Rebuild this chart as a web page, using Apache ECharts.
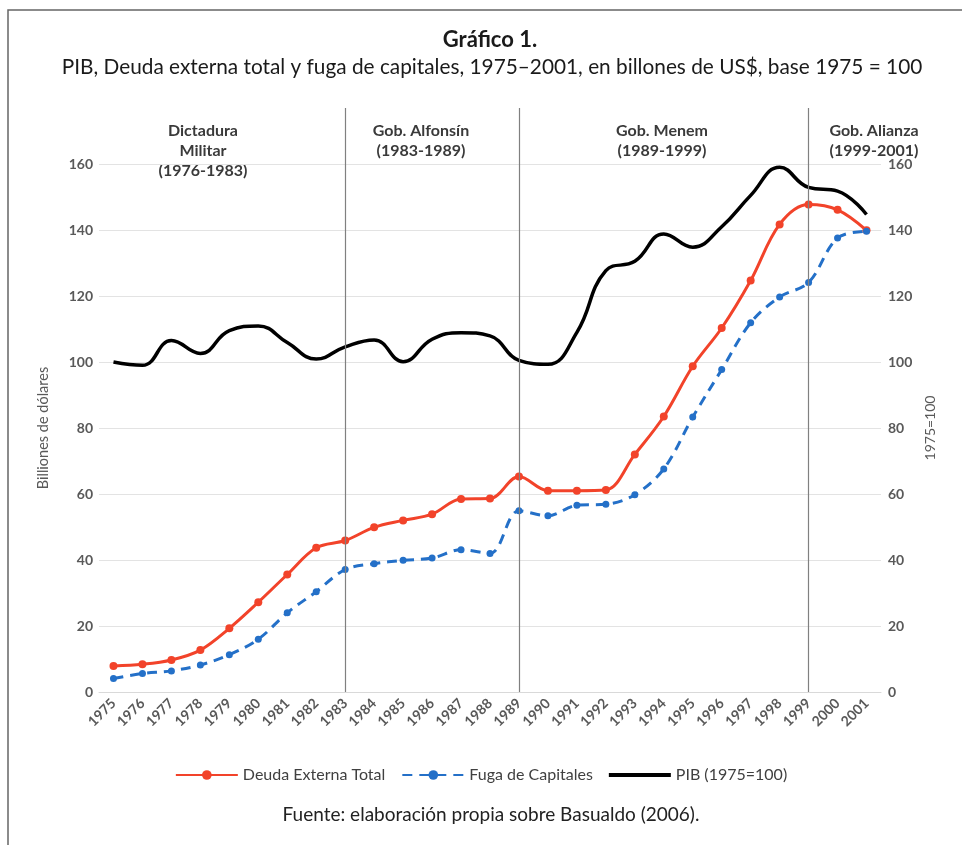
<!DOCTYPE html>
<html>
<head>
<meta charset="utf-8">
<script src="https://cdn.jsdelivr.net/npm/echarts@6/dist/echarts.min.js"></script>
<style>
html,body{margin:0;padding:0;background:#fff;}
#chart{width:962px;height:845px;}
</style>
</head>
<body>
<div id="chart"></div>
<script>
const years = ['1975','1976','1977','1978','1979','1980','1981','1982','1983','1984','1985','1986','1987','1988','1989','1990','1991','1992','1993','1994','1995','1996','1997','1998','1999','2000','2001'];
const deuda = [7.9,8.4,9.7,12.7,19.3,27.2,35.6,43.7,45.9,49.9,52.0,53.9,58.5,58.6,65.3,61.0,61.0,61.2,72.0,83.5,98.7,110.3,124.7,141.7,147.7,146.1,139.9];
const fuga = [4.1,5.6,6.4,8.2,11.3,16.0,24.0,30.4,37.1,38.9,39.9,40.6,43.1,42.0,54.9,53.4,56.6,56.9,59.8,67.6,83.3,97.7,111.9,119.7,124.1,137.6,139.6];
const pib = [100,99,106.5,102.6,109.5,110.9,105.9,100.9,104.6,106.7,100.1,106.9,108.9,107.9,100.5,99.3,109.0,127.7,130.5,138.8,134.8,141.0,150.5,159.0,152.9,151.8,144.7];
const periodBreaks = ['1983','1989','1999'];
const seriesNames = ['Deuda Externa Total','Fuga de Capitales','PIB (1975=100)'];

const FONT = 'Lato, "Liberation Sans", sans-serif';
const axisLabelStyle = {color:'#595959', fontSize:14, fontWeight:'bold', fontFamily:FONT};
const periodStyle = {fill:'#3a3a3a', font:'bold 16px ' + FONT, textAlign:'center', textVerticalAlign:'middle'};

const chart = echarts.init(document.getElementById('chart'), null, {renderer:'canvas'});
chart.setOption({
  backgroundColor:'#fff',
  animation:false,
  legend:{
    data:[
      {name:seriesNames[0]},
      {name:seriesNames[1]},
      {name:seriesNames[2], icon:'path://M0 0H62V4H0Z'}
    ],
    top:762, left:'center',
    itemWidth:62, itemHeight:12, itemGap:16,
    textStyle:{fontSize:16, color:'#404040', fontFamily:FONT}
  },
  grid:[
    {left:99, right:81, top:164, bottom:153, containLabel:false},
    {left:99, right:81, top:108, bottom:153, containLabel:false}
  ],
  xAxis:[
    {type:'category', data:years, gridIndex:0, boundaryGap:true,
     axisLine:{show:true, lineStyle:{color:'#d9d9d9'}}, axisTick:{show:false},
     axisLabel:Object.assign({rotate:45, margin:9, interval:0}, axisLabelStyle)},
    {type:'category', data:years, gridIndex:1, boundaryGap:true, show:false}
  ],
  yAxis:[
    {type:'value', gridIndex:0, min:0, max:160, interval:20,
     name:'Billiones de dólares', nameLocation:'middle', nameGap:48, nameRotate:90,
     nameTextStyle:{color:'#595959', fontSize:14.5, fontFamily:FONT},
     axisLine:{show:false}, axisTick:{show:false},
     axisLabel:Object.assign({margin:6}, axisLabelStyle),
     splitLine:{show:true, lineStyle:{color:'#e3e3e3', width:1}}},
    {type:'value', gridIndex:0, min:0, max:160, interval:20, position:'right',
     name:'1975=100', nameLocation:'middle', nameGap:39, nameRotate:90,
     nameTextStyle:{color:'#595959', fontSize:14, fontFamily:FONT},
     axisLine:{show:false}, axisTick:{show:false},
     axisLabel:Object.assign({margin:7}, axisLabelStyle),
     splitLine:{show:false}},
    {type:'value', gridIndex:1, min:0, max:1, show:false}
  ],
  series:[
    {name:'Deuda Externa Total', type:'line', xAxisIndex:0, yAxisIndex:0, data:deuda,
     smooth:0.35, symbol:'circle', symbolSize:8, z:3,
     lineStyle:{color:'#f2432a', width:3}, itemStyle:{color:'#f2432a'}},
    {name:'Fuga de Capitales', type:'line', xAxisIndex:0, yAxisIndex:0, data:fuga,
     smooth:0.35, symbol:'circle', symbolSize:7, z:3,
     lineStyle:{color:'#2470c8', width:3, type:[10,7]}, itemStyle:{color:'#2470c8'}},
    {name:'PIB (1975=100)', type:'line', xAxisIndex:0, yAxisIndex:1, data:pib,
     smooth:0.45, symbol:'none', z:4,
     lineStyle:{color:'#000', width:3.5}, itemStyle:{color:'#000'}},
    {name:'periodos', type:'line', xAxisIndex:1, yAxisIndex:2, data:[],
     markLine:{silent:true, symbol:['none','none'], label:{show:false},
       lineStyle:{color:'#808080', type:'solid', width:1.2},
       data:periodBreaks.map(y=>({xAxis:y}))}}
  ],
  graphic:[
    {type:'rect', shape:{x:8, y:10, width:1000, height:900}, style:{fill:'none', stroke:'#666', lineWidth:1.5}, silent:true},
    {type:'text', x:490, y:40, style:{text:'Gráfico 1.', fill:'#1a1a1a', font:'bold 22px ' + FONT, textAlign:'center', textVerticalAlign:'middle'}},
    {type:'text', x:492, y:67, style:{text:'PIB, Deuda externa total y fuga de capitales, 1975–2001, en billones de US$, base 1975 = 100', fill:'#1a1a1a', font:'20.8px ' + FONT, textAlign:'center', textVerticalAlign:'middle'}},
    {type:'text', x:203, y:131, style:Object.assign({text:'Dictadura'}, periodStyle)},
    {type:'text', x:203, y:151, style:Object.assign({text:'Militar'}, periodStyle)},
    {type:'text', x:203, y:171, style:Object.assign({text:'(1976-1983)'}, periodStyle)},
    {type:'text', x:421, y:131, style:Object.assign({text:'Gob. Alfonsín'}, periodStyle)},
    {type:'text', x:421, y:151, style:Object.assign({text:'(1983-1989)'}, periodStyle)},
    {type:'text', x:662, y:131, style:Object.assign({text:'Gob. Menem'}, periodStyle)},
    {type:'text', x:662, y:151, style:Object.assign({text:'(1989-1999)'}, periodStyle)},
    {type:'text', x:874, y:131, style:Object.assign({text:'Gob. Alianza'}, periodStyle)},
    {type:'text', x:874, y:151, style:Object.assign({text:'(1999-2001)'}, periodStyle)},
    {type:'text', x:491, y:815, style:{text:'Fuente: elaboración propia sobre Basualdo (2006).', fill:'#222', font:'19px ' + FONT, textAlign:'center', textVerticalAlign:'middle'}}
  ]
});
</script>
</body>
</html>
